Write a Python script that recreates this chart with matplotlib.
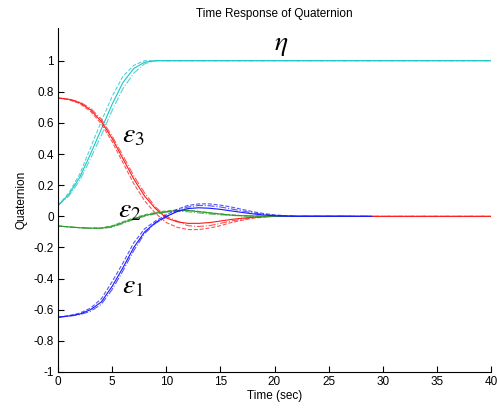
import matplotlib
matplotlib.use("Agg")
import matplotlib.pyplot as plt
import numpy as np

plt.rcParams['font.family'] = ['Liberation Sans', 'DejaVu Sans']
plt.rcParams['mathtext.fontset'] = 'stix'

# time samples (s)
t_main = [0, 1, 2, 3, 4, 5, 6, 7, 8, 9, 10, 11, 12, 13, 14, 15, 16, 17, 18, 19, 20, 21, 22]

# eta (cyan)
eta_solid = [0.07, 0.14, 0.25, 0.40, 0.56, 0.72, 0.86, 0.95, 0.99, 1.0, 1.0, 1.0, 1.0, 1.0, 1.0, 1.0, 1.0, 1.0, 1.0, 1.0, 1.0, 1.0, 1.0]
eta_dash = [0.07, 0.15, 0.27, 0.44, 0.61, 0.77, 0.90, 0.97, 1.0, 1.0, 1.0, 1.0, 1.0, 1.0, 1.0, 1.0, 1.0, 1.0, 1.0, 1.0, 1.0, 1.0, 1.0]
eta_dashdot = [0.07, 0.13, 0.23, 0.37, 0.52, 0.68, 0.82, 0.92, 0.98, 1.0, 1.0, 1.0, 1.0, 1.0, 1.0, 1.0, 1.0, 1.0, 1.0, 1.0, 1.0, 1.0, 1.0]

# epsilon 3 (red)
e3_solid = [0.76, 0.752, 0.73, 0.685, 0.61, 0.50, 0.37, 0.24, 0.13, 0.05, -0.01, -0.035, -0.045, -0.045, -0.04, -0.03, -0.02, -0.012, -0.006, -0.003, 0.0, 0.0, 0.0]
e3_dash = [0.76, 0.75, 0.725, 0.675, 0.595, 0.48, 0.345, 0.21, 0.10, 0.02, -0.04, -0.07, -0.085, -0.085, -0.075, -0.06, -0.04, -0.025, -0.012, -0.005, 0.0, 0.0, 0.0]
e3_dashdot = [0.76, 0.754, 0.735, 0.695, 0.625, 0.515, 0.39, 0.26, 0.15, 0.06, 0.0, -0.03, -0.06, -0.065, -0.06, -0.045, -0.03, -0.018, -0.008, -0.003, 0.0, 0.0, 0.0]

# epsilon 2 (green)
e2_solid = [-0.062, -0.068, -0.073, -0.076, -0.076, -0.065, -0.04, -0.015, 0.005, 0.02, 0.03, 0.037, 0.038, 0.03, 0.022, 0.015, 0.008, 0.004, 0.002, 0.001, 0.0, 0.0, 0.0]
e2_dash = [-0.062, -0.068, -0.073, -0.076, -0.074, -0.06, -0.035, -0.01, 0.01, 0.025, 0.035, 0.042, 0.04, 0.032, 0.024, 0.016, 0.009, 0.005, 0.002, 0.001, 0.0, 0.0, 0.0]
e2_dashdot = [-0.062, -0.068, -0.073, -0.076, -0.078, -0.07, -0.046, -0.02, 0.0, 0.016, 0.027, 0.033, 0.03, 0.022, 0.015, 0.01, 0.006, 0.003, 0.001, 0.0, 0.0, 0.0, 0.0]

# epsilon 1 (blue)
e1_solid = [-0.648, -0.64, -0.628, -0.60, -0.55, -0.45, -0.33, -0.20, -0.10, -0.04, 0.0, 0.03, 0.05, 0.055, 0.052, 0.045, 0.035, 0.025, 0.016, 0.009, 0.004, 0.002, 0.0]
e1_dash = [-0.648, -0.638, -0.622, -0.59, -0.53, -0.42, -0.30, -0.17, -0.08, -0.03, 0.01, 0.045, 0.07, 0.08, 0.08, 0.072, 0.06, 0.045, 0.03, 0.018, 0.01, 0.004, 0.0]
e1_dashdot = [-0.648, -0.642, -0.632, -0.61, -0.565, -0.47, -0.35, -0.22, -0.11, -0.045, -0.005, 0.035, 0.06, 0.07, 0.068, 0.06, 0.048, 0.035, 0.022, 0.012, 0.005, 0.002, 0.0]

# end of simulated records
t_end_eta, t_end_e3, t_end_e2, t_end_e1 = 40, 40, 27, 29

labels = ['$\\eta$', '$\\varepsilon_3$', '$\\varepsilon_2$', '$\\varepsilon_1$']
label_pos = [(20.0, 1.07), (5.9, 0.476), (5.5, -0.006), (5.9, -0.495)]

xticks = [0, 5, 10, 15, 20, 25, 30, 35, 40]
yticks = [-1, -0.8, -0.6, -0.4, -0.2, 0, 0.2, 0.4, 0.6, 0.8, 1]
ytick_labels = ['-1', '-0.8', '-0.6', '-0.4', '-0.2', '0', '0.2', '0.4', '0.6', '0.8', '1']

fig = plt.figure(figsize=(4.97, 4.12), dpi=100)
ax = fig.add_axes([58/497, 40/412, 433/497, 344/412])

groups = [
    ('#1fc4c4', [eta_solid, eta_dash, eta_dashdot], t_end_eta),
    ('#ff1a1a', [e3_solid, e3_dash, e3_dashdot], t_end_e3),
    ('#2e9a2e', [e2_solid, e2_dash, e2_dashdot], t_end_e2),
    ('#1a1aff', [e1_solid, e1_dash, e1_dashdot], t_end_e1),
]
styles = ['-', '--', '-.']
for color, series, tend in groups:
    for vals, ls in zip(series, styles):
        tt = list(t_main) + [tend]
        vv = list(vals) + [vals[-1]]
        ax.plot(tt, vv, color=color, lw=0.8, ls=ls, alpha=1.0 if ls == '-' else 0.75)

for lab, (x, y) in zip(labels, label_pos):
    ax.text(x, y, lab, fontsize=20, ha='left', va='baseline')

ax.set_xlim(0, 40)
ax.set_ylim(-1, 1.21)
ax.set_xticks(xticks)
ax.set_yticks(yticks)
ax.set_yticklabels(ytick_labels)
ax.tick_params(direction='in', length=4, width=0.8, labelsize=8.5, pad=3)
for s in ['top', 'right']:
    ax.spines[s].set_visible(False)
for s in ['left', 'bottom']:
    ax.spines[s].set_linewidth(0.8)

ax.set_title('Time Response of Quaternion', fontsize=8.5, pad=8)
ax.set_xlabel('Time (sec)', fontsize=8.5, labelpad=1)
ax.set_ylabel('Quaternion', fontsize=8.5, labelpad=4)

fig.savefig('out.png', dpi=100)
